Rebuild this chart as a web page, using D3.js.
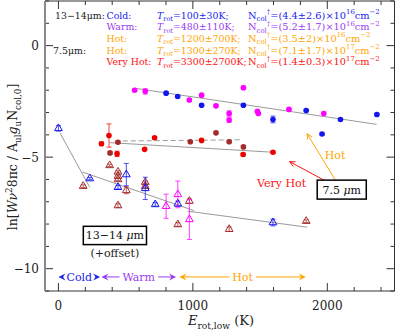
<!DOCTYPE html>
<html><head><meta charset="utf-8">
<script src="https://cdn.jsdelivr.net/npm/d3@7"></script>
<style>body{margin:0;background:#fff}svg{display:block}text{font-family:"DejaVu Serif",serif}</style>
</head><body><svg id="c" width="395" height="332"></svg>
<script>
// ---------- data (x = E_rot,low [K], y = ln value, err) ----------
const circBlue = [[801,-2.13,.05],[887,-2.28,.05],[1065,-2.67,.05],[1376,-2.67,.05],[1596,-3.31,.15],[1843,-2.91,.05],[1961,-3.96,.05],[2098,-3.31,.05],[2369,-3.09,.05]];
const circMagenta = [[567,-2.0,.05],[646,-2.05,.12],[974,-2.44,.06],[1065,-2.22,.05],[1172,-2.70,.05],[1270,-3.04,.12],[1270,-3.34,.1],[1376,-1.89,.08],[1480,-2.94,.05],[1487,-3.04,.05],[1715,-2.86,.05],[1974,-3.04,.06]];
const circRed = [[320,-4.40,.08],[376,-4.03,.52],[436,-4.85,.12],[641,-4.65,.05],[715,-4.13,.05],[1065,-4.25,.05],[1374,-4.88,.06],[1596,-4.78,.05]];
const circDarkRed = [[384,-4.81,.06],[443,-4.33,.05],[981,-4.31,.05],[1172,-3.91,.05],[1270,-4.31,.05],[1376,-4.54,.06]];
const triBlue = [[0,-3.71,.12],[233,-5.96,.05],[443,-6.35,.08],[505,-5.78,.5],[646,-6.40,.5],[720,-7.12,.08],[888,-7.09,.12],[1596,-7.93,.15]];
const triDarkRed = [[184,-6.30,.06],[381,-5.37,.05],[443,-5.66,.05],[443,-5.85,.05],[443,-6.0,.05],[443,-7.17,.08],[505,-6.49,.15],[646,-6.12,.05],[646,-6.30,.05],[888,-8.02,.08],[974,-6.97,.1],[1270,-8.23,.1],[1843,-7.87,.06]];
const triMagenta = [[801,-7.20,.54],[888,-6.67,.6],[974,-7.79,.9]];

// fits: 7.5um hot, 7.5um very hot, 7.5um hot (dashed), 13-14um cold / warm / hot
const fitHot = [[567,-1.91],[2367,-3.53]];
const fitVeryHot = [[382,-4.35],[1596,-4.78]];
const fitHotDashed = [[419,-4.28],[1367,-4.22]];
const fitCold = [[11,-3.91],[233,-6.35]];
const fitWarm = [[179,-5.67],[1010,-7.40]];
const fitHot13 = [[960,-7.42],[1850,-8.14]];

const xMajor = [0,1000,2000];
const yMajor = [-10,-5,0];

const legendGroup = ["13−14μm:","","","7.5μm:",""];
const legendName = ["Cold:","Warm:","Hot:","Hot:","Very Hot:"];
const legendT = ["100±30K;","480±110K;","1200±700K;","1300±270K;","3300±2700K;"];
const legendN = ["(4.4±2.6)×10^{16}","(5.2±1.7)×10^{16}","(3.5±2)×10^{16}","(7.1±1.7)×10^{17}","(1.4±0.3)×10^{17}"];
const legendColor = ["#2222ee","#9b3cf0","#ffa500","#ffa500","#ff1111"];

const regionName = ["Cold","Warm","Hot"];
const regionStart = [0,320,900];
const regionEnd = [310,875,1840];
const regionColor = ["#2222ee","#9b3cf0","#ffa500"];

// ---------- setup ----------
const svg = d3.select("#c");
const L=45, R=394.5, T=1, B=291;
const x = d3.scaleLinear().domain([-100,2500]).range([L,R]);
const y = d3.scaleLinear().domain([-11,2]).range([B,T]);

const C = {blue:"#1515ee", mag:"#ff00ff", red:"#ee0000", dred:"#a52a2a", fit:"#9a9a9a"};

// rich text helper: _{sub} ^{sup} $italic$
function rich(sel, str, fs){
  const re = /(_\{[^}]*\}|\^\{[^}]*\}|\$[^$]*\$)/;
  let cur = 0;
  str.split(re).filter(s=>s.length).forEach(s=>{
    let lvl=0, txt=s, it=false;
    if(s.startsWith("_{")){lvl=1; txt=s.slice(2,-1);}
    else if(s.startsWith("^{")){lvl=-1; txt=s.slice(2,-1);}
    else if(s.startsWith("$")){it=true; txt=s.slice(1,-1);}
    const off = lvl===1?0.3*fs:(lvl===-1?-0.42*fs:0);
    const ts = sel.append("tspan").attr("dy",off-cur).text(txt);
    cur = off;
    if(lvl) ts.attr("font-size",fs*0.7);
    if(it) ts.attr("font-style","italic");
  });
  return sel;
}

// ---------- fits ----------
const line = d3.line().x(d=>x(d[0])).y(d=>y(d[1]));
[fitHot,fitVeryHot,fitCold,fitWarm,fitHot13].forEach(f=>svg.append("path").attr("d",line(f)).attr("fill","none").attr("stroke",C.fit).attr("stroke-width",1));
svg.append("path").attr("d",line(fitHotDashed)).attr("fill","none").attr("stroke",C.fit).attr("stroke-width",1).attr("stroke-dasharray","5,3");

// ---------- points ----------
function errbars(data,color){
  const g=svg.append("g").attr("stroke",color).attr("stroke-width",1).attr("opacity",0.75);
  data.forEach(d=>{
    const cx=x(d[0]), y1=y(d[1]-d[2]), y2=y(d[1]+d[2]);
    g.append("line").attr("x1",cx).attr("x2",cx).attr("y1",y1).attr("y2",y2);
    g.append("line").attr("x1",cx-2.5).attr("x2",cx+2.5).attr("y1",y1).attr("y2",y1);
    g.append("line").attr("x1",cx-2.5).attr("x2",cx+2.5).attr("y1",y2).attr("y2",y2);
  });
}
function circles(data,color){
  errbars(data,color);
  svg.append("g").selectAll("circle").data(data).join("circle")
    .attr("cx",d=>x(d[0])).attr("cy",d=>y(d[1])).attr("r",2.8).attr("fill",color);
}
const tri = d3.symbol().type(d3.symbolTriangle).size(26);
function triangles(data,color){
  errbars(data,color);
  svg.append("g").selectAll("path").data(data).join("path")
    .attr("d",tri).attr("transform",d=>`translate(${x(d[0])},${y(d[1])})`)
    .attr("fill","none").attr("stroke",color).attr("stroke-width",1);
}
circles(circMagenta,C.mag); circles(circBlue,C.blue);
circles(circDarkRed,C.dred); circles(circRed,C.red);
triangles(triDarkRed,C.dred); triangles(triBlue,C.blue); triangles(triMagenta,C.mag);

// ---------- axes / frame ----------
const ax = svg.append("g").attr("stroke","#333").attr("stroke-width",1);
ax.append("line").attr("x1",L).attr("x2",R).attr("y1",B).attr("y2",B);
ax.append("line").attr("x1",L).attr("x2",R).attr("y1",T).attr("y2",T);
ax.append("line").attr("x1",R).attr("x2",R).attr("y1",T).attr("y2",B);
svg.append("line").attr("x1",L).attr("x2",L).attr("y1",T).attr("y2",B).attr("stroke","#8a8a8a").attr("stroke-width",2);
d3.range(-100,2501,100).filter(v=>v%200===0).forEach(v=>{
  const len = xMajor.includes(v)?8:4, px=x(v);
  ax.append("line").attr("x1",px).attr("x2",px).attr("y1",B).attr("y2",B-len);
  ax.append("line").attr("x1",px).attr("x2",px).attr("y1",T).attr("y2",T+len);
});
d3.range(-11,3).forEach(v=>{
  const len = yMajor.includes(v)?8:4, py=y(v);
  ax.append("line").attr("x1",L).attr("x2",L+len).attr("y1",py).attr("y2",py);
  ax.append("line").attr("x1",R).attr("x2",R-len).attr("y1",py).attr("y2",py);
});
xMajor.forEach(v=>svg.append("text").attr("x",x(v)).attr("y",310).attr("text-anchor","middle").attr("font-size",12).attr("fill","#222").text(v));
yMajor.forEach(v=>svg.append("text").attr("x",39).attr("y",y(v)+4.5).attr("text-anchor","end").attr("font-size",12).attr("fill","#222").text(v<0?"−"+(-v):v));

// axis titles
rich(svg.append("text").attr("x",188).attr("y",325).attr("font-size",13).attr("fill","#222"),"$E$_{rot,low} (K)",13);
rich(svg.append("text").attr("transform","translate(17,157) rotate(-90)").attr("text-anchor","middle").attr("font-size",12.5).attr("fill","#222"),
  "ln[$W$$ν$^{2}8πc / A_{ul}$g$_{u}N_{col,0}]",12.5);

// ---------- legend ----------
const rowsY=[15,26.5,38,50,61.5];
legendName.forEach((nm,i)=>{
  const fs=9.4, col=legendColor[i];
  if(legendGroup[i]) svg.append("text").attr("x",i===3?53:55).attr("y",rowsY[i]+3.5).attr("font-size",fs).attr("fill","#222").text(legendGroup[i]);
  svg.append("text").attr("x",106.5).attr("y",rowsY[i]+3.5).attr("font-size",fs).attr("fill",col).text(nm);
  rich(svg.append("text").attr("x",157).attr("y",rowsY[i]+3.5).attr("font-size",fs).attr("fill",col),"$T$_{rot}="+legendT[i],fs);
  rich(svg.append("text").attr("x",248).attr("y",rowsY[i]+3.5).attr("font-size",9.8).attr("fill",col),"N_{col}^{†}="+legendN[i]+"cm^{−2}",9.8);
});

// ---------- annotations ----------
function arrowV(x1,y1,x2,y2,color){
  svg.append("line").attr("x1",x1).attr("y1",y1).attr("x2",x2).attr("y2",y2).attr("stroke",color).attr("stroke-width",1);
  const a=Math.atan2(y1-y2,x1-x2), l=6, w=0.45;
  svg.append("path").attr("d",`M${x2+l*Math.cos(a+w)},${y2+l*Math.sin(a+w)}L${x2},${y2}L${x2+l*Math.cos(a-w)},${y2+l*Math.sin(a-w)}`)
    .attr("fill","none").attr("stroke",color).attr("stroke-width",1);
}
// 7.5 um box and arrows
const bx1=x(1925), bx2=x(2290), by1=y(-6.03), by2=y(-6.88);
arrowV(x(2060),by1,x(1850),y(-3.95),"#ffa500");
arrowV(x(1975),by1,x(1720),y(-5.2),"#ff1111");
svg.append("rect").attr("x",bx1).attr("y",by1).attr("width",bx2-bx1).attr("height",by2-by1).attr("fill","#fff").attr("stroke","#000").attr("stroke-width",1.5);
rich(svg.append("text").attr("x",(bx1+bx2)/2).attr("y",(by1+by2)/2+4).attr("text-anchor","middle").attr("font-size",11).attr("fill","#111"),"7.5 $μ$m",11);
svg.append("text").attr("x",x(2058)).attr("y",y(-4.9)+4).attr("text-anchor","middle").attr("font-size",11).attr("fill","#ffa500").text("Hot");
svg.append("text").attr("x",x(1660)).attr("y",y(-6.15)+4).attr("text-anchor","middle").attr("font-size",11).attr("fill","#ff1111").text("Very Hot");
// 13-14 um box
const cx1=x(185), cx2=x(655), cy1=y(-8.1), cy2=y(-8.92);
svg.append("rect").attr("x",cx1).attr("y",cy1).attr("width",cx2-cx1).attr("height",cy2-cy1).attr("fill","#fff").attr("stroke","#000").attr("stroke-width",1.5);
rich(svg.append("text").attr("x",(cx1+cx2)/2).attr("y",(cy1+cy2)/2+4).attr("text-anchor","middle").attr("font-size",11).attr("fill","#111"),"13−14 $μ$m",11);
svg.append("text").attr("x",(cx1+cx2)/2).attr("y",y(-9.28)+4).attr("text-anchor","middle").attr("font-size",11).attr("fill","#222").text("(+offset)");

// region arrows
function headF(px,py,dir,color){
  svg.append("path").attr("d",`M${px},${py}L${px-dir*7},${py-3.5}L${px-dir*4.5},${py}L${px-dir*7},${py+3.5}Z`).attr("fill",color);
}
const ry=y(-10.37);
regionName.forEach((nm,i)=>{
  const a=x(regionStart[i]), b=x(regionEnd[i]), col=regionColor[i];
  const t=svg.append("text").attr("x",(a+b)/2).attr("y",ry+4).attr("text-anchor","middle").attr("font-size",11).attr("fill",col).text(nm);
  const w=t.node().getComputedTextLength()/2+3;
  svg.append("line").attr("x1",a+2).attr("x2",(a+b)/2-w).attr("y1",ry).attr("y2",ry).attr("stroke",col);
  svg.append("line").attr("x1",(a+b)/2+w).attr("x2",b-2).attr("y1",ry).attr("y2",ry).attr("stroke",col);
  headF(a,ry,-1,col); headF(b,ry,1,col);
});
</script></body></html>
